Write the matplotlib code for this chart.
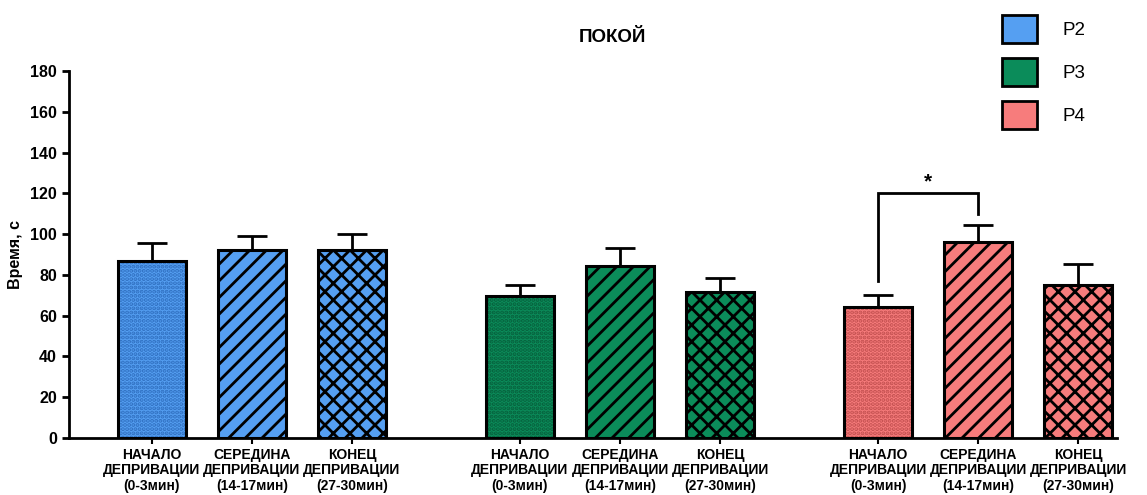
import matplotlib
matplotlib.use("Agg")
import matplotlib.pyplot as plt
from matplotlib.patches import Patch
import numpy as np

plt.rcParams['font.family'] = ['Liberation Sans', 'DejaVu Sans']
plt.rcParams['hatch.linewidth'] = 2.0

groups = ['P2', 'P3', 'P4']
colors = ['#559ff2', '#0b8c5a', '#f77c7c']
dot_colors = ['#2f6fc0', '#06603c', '#c24f4f']
periods = ['НАЧАЛО\nДЕПРИВАЦИИ\n(0-3мин)', 'СЕРЕДИНА\nДЕПРИВАЦИИ\n(14-17мин)', 'КОНЕЦ\nДЕПРИВАЦИИ\n(27-30мин)']
means = {'P2': [86.8, 92.2, 92.2], 'P3': [69.6, 84.4, 71.6], 'P4': [64.2, 96.1, 75.0]}
sems = {'P2': [8.8, 6.8, 7.8], 'P3': [5.4, 8.8, 6.9], 'P4': [5.9, 8.4, 10.3]}
group_offsets = [0.0, 3.68, 7.26]
hatches = ['....', '//', 'xx']

fig = plt.figure(figsize=(11.47, 4.95), dpi=100)
ax = fig.add_axes([0.060, 0.1152, 0.914, 0.7414])

xt, xl = [], []
for gi, g in enumerate(groups):
    x = group_offsets[gi] + np.arange(3)
    for k in range(3):
        ax.errorbar(x[k], means[g][k], yerr=[[0], [sems[g][k]]], fmt='none',
                    ecolor='black', elinewidth=2, capsize=11, capthick=2, zorder=1)
        if k == 0:
            ax.bar(x[k], means[g][k], width=0.68, color=colors[gi], edgecolor=dot_colors[gi],
                   hatch=hatches[k], linewidth=0, zorder=2)
            ax.bar(x[k], means[g][k], width=0.68, fill=False, edgecolor='black',
                   linewidth=2.2, zorder=3)
        else:
            ax.bar(x[k], means[g][k], width=0.68, color=colors[gi], edgecolor='black',
                   hatch=hatches[k], linewidth=2.2, zorder=2)
    xt.extend(x)
    xl.extend(periods)

# significance bracket
bx1, bx2 = group_offsets[2] + 0, group_offsets[2] + 1
ax.plot([bx1, bx1, bx2, bx2], [77, 120, 120, 110], color='black', lw=2, solid_joinstyle='miter')
ax.text((bx1 + bx2) / 2, 121, '*', ha='center', va='bottom', fontsize=15, fontweight='bold')

ax.set_xlim(-0.83, 9.65)
ax.set_ylim(0, 180)
ax.set_yticks(np.arange(0, 181, 20))
ax.set_xticks(xt)
ax.set_xticklabels(xl, fontsize=10, fontweight='bold', linespacing=1.15)
ax.tick_params(axis='y', labelsize=11.5, width=2, length=5)
ax.tick_params(axis='x', width=1.5, length=4, pad=3)
for lab in ax.get_yticklabels():
    lab.set_fontweight('bold')
ax.spines['top'].set_visible(False)
ax.spines['right'].set_visible(False)
ax.spines['left'].set_linewidth(2)
ax.spines['bottom'].set_linewidth(2)
ax.set_ylabel('Время, с', fontsize=11.5, fontweight='bold', labelpad=5)

fig.text(0.534, 0.925, 'ПОКОЙ', ha='center', va='center', fontsize=13.5, fontweight='bold')

handles = [Patch(facecolor=c, edgecolor='black', linewidth=2) for c in colors]
fig.legend(handles, groups, loc='upper right', bbox_to_anchor=(0.961, 1.003), frameon=False,
           fontsize=13.5, handlelength=1.87, handleheight=1.92, labelspacing=0.78, handletextpad=1.33)

fig.savefig('out.png', dpi=100, facecolor='white')
